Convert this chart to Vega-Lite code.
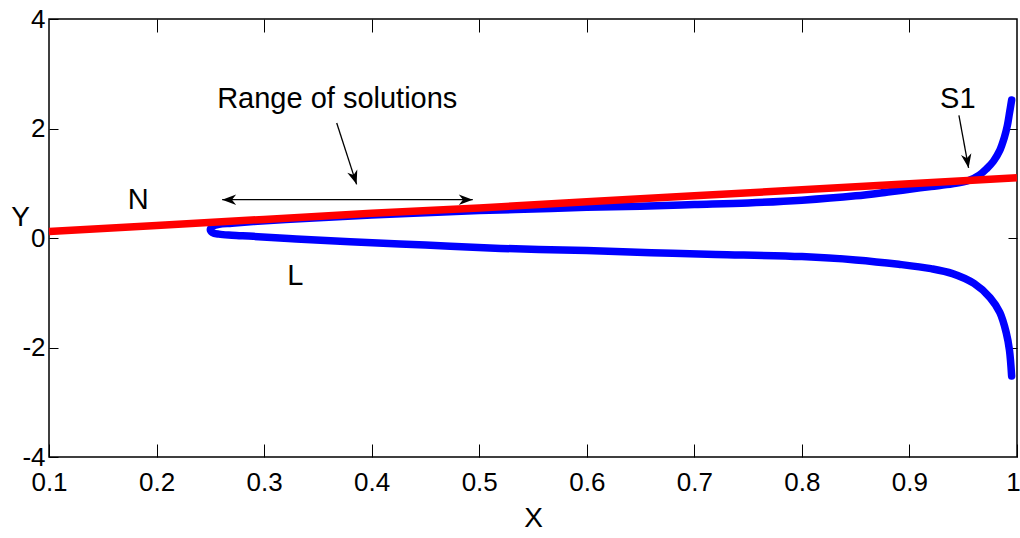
{
  "$schema": "https://vega.github.io/schema/vega-lite/v6.json",
  "width": 968,
  "height": 438,
  "autosize": {"type": "none"},
  "padding": {"left": 49, "top": 19, "right": 3, "bottom": 81},
  "background": "white",
  "config": {
    "view": {"stroke": "black", "strokeWidth": 1.5},
    "font": "Liberation Sans",
    "axis": {"grid": false, "domain": false, "tickColor": "black", "tickWidth": 1, "labelColor": "black", "titleColor": "black", "labelFont": "Liberation Sans", "titleFont": "Liberation Sans", "labelFontSize": 26, "titleFontSize": 28, "titleFontWeight": "normal", "labelFlush": false, "labelOverlap": false}
  },
  "datasets": {
    "curves": [
      {"series": "L", "order": 1, "x": 0.995, "y": 2.52},
      {"series": "L", "order": 2, "x": 0.993, "y": 2.28},
      {"series": "L", "order": 3, "x": 0.991, "y": 2.05},
      {"series": "L", "order": 4, "x": 0.988, "y": 1.82},
      {"series": "L", "order": 5, "x": 0.984, "y": 1.6},
      {"series": "L", "order": 6, "x": 0.978, "y": 1.4},
      {"series": "L", "order": 7, "x": 0.972, "y": 1.27},
      {"series": "L", "order": 8, "x": 0.965, "y": 1.15},
      {"series": "L", "order": 9, "x": 0.955, "y": 1.05},
      {"series": "L", "order": 10, "x": 0.94, "y": 0.99},
      {"series": "L", "order": 11, "x": 0.92, "y": 0.94},
      {"series": "L", "order": 12, "x": 0.9, "y": 0.89},
      {"series": "L", "order": 13, "x": 0.88, "y": 0.84},
      {"series": "L", "order": 14, "x": 0.85, "y": 0.77},
      {"series": "L", "order": 15, "x": 0.8, "y": 0.69},
      {"series": "L", "order": 16, "x": 0.75, "y": 0.64},
      {"series": "L", "order": 17, "x": 0.7, "y": 0.61},
      {"series": "L", "order": 18, "x": 0.65, "y": 0.58},
      {"series": "L", "order": 19, "x": 0.6, "y": 0.56},
      {"series": "L", "order": 20, "x": 0.55, "y": 0.53},
      {"series": "L", "order": 21, "x": 0.5, "y": 0.5},
      {"series": "L", "order": 22, "x": 0.45, "y": 0.46},
      {"series": "L", "order": 23, "x": 0.4, "y": 0.42},
      {"series": "L", "order": 24, "x": 0.36, "y": 0.38},
      {"series": "L", "order": 25, "x": 0.32, "y": 0.34},
      {"series": "L", "order": 26, "x": 0.29, "y": 0.3},
      {"series": "L", "order": 27, "x": 0.27, "y": 0.27},
      {"series": "L", "order": 28, "x": 0.258, "y": 0.25},
      {"series": "L", "order": 29, "x": 0.252, "y": 0.21},
      {"series": "L", "order": 30, "x": 0.25, "y": 0.15},
      {"series": "L", "order": 31, "x": 0.252, "y": 0.1},
      {"series": "L", "order": 32, "x": 0.258, "y": 0.07},
      {"series": "L", "order": 33, "x": 0.27, "y": 0.05},
      {"series": "L", "order": 34, "x": 0.29, "y": 0.03},
      {"series": "L", "order": 35, "x": 0.33, "y": -0.02},
      {"series": "L", "order": 36, "x": 0.38, "y": -0.07},
      {"series": "L", "order": 37, "x": 0.45, "y": -0.13},
      {"series": "L", "order": 38, "x": 0.52, "y": -0.19},
      {"series": "L", "order": 39, "x": 0.6, "y": -0.23},
      {"series": "L", "order": 40, "x": 0.66, "y": -0.27},
      {"series": "L", "order": 41, "x": 0.72, "y": -0.3},
      {"series": "L", "order": 42, "x": 0.8, "y": -0.34},
      {"series": "L", "order": 43, "x": 0.85, "y": -0.4},
      {"series": "L", "order": 44, "x": 0.89, "y": -0.48},
      {"series": "L", "order": 45, "x": 0.92, "y": -0.56},
      {"series": "L", "order": 46, "x": 0.94, "y": -0.65},
      {"series": "L", "order": 47, "x": 0.96, "y": -0.83},
      {"series": "L", "order": 48, "x": 0.975, "y": -1.09},
      {"series": "L", "order": 49, "x": 0.984, "y": -1.36},
      {"series": "L", "order": 50, "x": 0.99, "y": -1.73},
      {"series": "L", "order": 51, "x": 0.993, "y": -2.05},
      {"series": "L", "order": 52, "x": 0.995, "y": -2.52},
      {"series": "N", "order": 1, "x": 0.1, "y": 0.12},
      {"series": "N", "order": 2, "x": 0.2, "y": 0.23},
      {"series": "N", "order": 3, "x": 0.3, "y": 0.34},
      {"series": "N", "order": 4, "x": 0.4, "y": 0.45},
      {"series": "N", "order": 5, "x": 0.5, "y": 0.55},
      {"series": "N", "order": 6, "x": 0.6, "y": 0.66},
      {"series": "N", "order": 7, "x": 0.7, "y": 0.77},
      {"series": "N", "order": 8, "x": 0.8, "y": 0.88},
      {"series": "N", "order": 9, "x": 0.9, "y": 0.99},
      {"series": "N", "order": 10, "x": 1.0, "y": 1.1}
    ],
    "arrows": [
      {"name": "range", "x": 0.261, "y": 0.7, "x2": 0.494, "y2": 0.7},
      {"name": "range_pointer", "x": 0.3675, "y": 2.1, "x2": 0.386, "y2": 0.98},
      {"name": "s1_pointer", "x": 0.946, "y": 2.24, "x2": 0.955, "y2": 1.28}
    ],
    "heads": [
      {"kind": "left", "x": 0.261, "y": 0.7},
      {"kind": "right", "x": 0.494, "y": 0.7},
      {"kind": "down1", "x": 0.386, "y": 0.98},
      {"kind": "down2", "x": 0.955, "y": 1.28}
    ],
    "labels": [
      {"text": "Range of solutions", "x": 0.368, "y": 2.53},
      {"text": "S1", "x": 0.945, "y": 2.53},
      {"text": "N", "x": 0.183, "y": 0.685},
      {"text": "L", "x": 0.329, "y": -0.685}
    ]
  },
  "resolve": {"axis": {"x": "independent", "y": "independent"}},
  "layer": [
    {
      "data": {"name": "curves"},
      "transform": [{"filter": "datum.series === 'L'"}],
      "mark": {"type": "line", "color": "#0000ff", "strokeWidth": 7.5, "strokeCap": "round", "strokeJoin": "round", "interpolate": "catmull-rom"},
      "encoding": {
        "x": {"field": "x", "type": "quantitative", "scale": {"domain": [0.1, 1], "nice": false, "zero": false},
          "axis": {"orient": "bottom", "values": [0.1, 0.2, 0.3, 0.4, 0.5, 0.6, 0.7, 0.8, 0.9, 1], "format": ".1~f", "tickSize": -13, "labelPadding": 25, "labelOffset": {"condition": {"test": "datum.value === 1", "value": -4}, "value": 0}, "title": "X", "titlePadding": 9}},
        "y": {"field": "y", "type": "quantitative", "scale": {"domain": [-4, 4], "nice": false, "zero": false},
          "axis": {"orient": "left", "values": [-4, -2, 0, 2, 4], "labelExpr": "datum.value < 0 ? '-' + abs(datum.value) : '' + datum.value", "tickSize": -9, "labelPadding": 13, "title": "Y", "titleAngle": 0, "titleX": -29, "titleY": 198, "titleAlign": "center", "titleBaseline": "middle"}},
        "order": {"field": "order", "type": "quantitative"}
      }
    },
    {
      "data": {"name": "curves"},
      "transform": [{"filter": "datum.series === 'N'"}],
      "mark": {"type": "line", "color": "#ff0000", "strokeWidth": 7.5, "strokeCap": "butt"},
      "encoding": {
        "x": {"field": "x", "type": "quantitative", "scale": {"domain": [0.1, 1], "nice": false, "zero": false},
          "axis": {"orient": "top", "values": [0.2, 0.3, 0.4, 0.5, 0.6, 0.7, 0.8, 0.9], "labels": false, "tickSize": -13, "title": null}},
        "y": {"field": "y", "type": "quantitative", "scale": {"domain": [-4, 4], "nice": false, "zero": false},
          "axis": {"orient": "right", "values": [-2, 0, 2], "labels": false, "tickSize": -9, "title": null}},
        "order": {"field": "order", "type": "quantitative"}
      }
    },
    {
      "data": {"name": "arrows"},
      "mark": {"type": "rule", "color": "black", "strokeWidth": 1.3},
      "encoding": {
        "x": {"field": "x", "type": "quantitative", "axis": null},
        "y": {"field": "y", "type": "quantitative", "axis": null},
        "x2": {"field": "x2"},
        "y2": {"field": "y2"}
      }
    },
    {
      "data": {"name": "heads"},
      "transform": [{"filter": "datum.kind === 'left'"}],
      "mark": {"type": "point", "shape": "M0,0 L2,-0.75 L1.4,0 L2,0.75 Z", "size": 196, "filled": true, "color": "black", "opacity": 1},
      "encoding": {
        "x": {"field": "x", "type": "quantitative", "axis": null},
        "y": {"field": "y", "type": "quantitative", "axis": null}
      }
    },
    {
      "data": {"name": "heads"},
      "transform": [{"filter": "datum.kind === 'right'"}],
      "mark": {"type": "point", "shape": "M0,0 L-2,-0.75 L-1.4,0 L-2,0.75 Z", "size": 196, "filled": true, "color": "black", "opacity": 1},
      "encoding": {
        "x": {"field": "x", "type": "quantitative", "axis": null},
        "y": {"field": "y", "type": "quantitative", "axis": null}
      }
    },
    {
      "data": {"name": "heads"},
      "transform": [{"filter": "datum.kind === 'down1'"}],
      "mark": {"type": "point", "shape": "M0,0 L-0.75,-2 L0,-1.4 L0.75,-2 Z", "size": 196, "filled": true, "color": "black", "opacity": 1, "angle": -18},
      "encoding": {
        "x": {"field": "x", "type": "quantitative", "axis": null},
        "y": {"field": "y", "type": "quantitative", "axis": null}
      }
    },
    {
      "data": {"name": "heads"},
      "transform": [{"filter": "datum.kind === 'down2'"}],
      "mark": {"type": "point", "shape": "M0,0 L-0.75,-2 L0,-1.4 L0.75,-2 Z", "size": 196, "filled": true, "color": "black", "opacity": 1, "angle": -10},
      "encoding": {
        "x": {"field": "x", "type": "quantitative", "axis": null},
        "y": {"field": "y", "type": "quantitative", "axis": null}
      }
    },
    {
      "data": {"name": "labels"},
      "mark": {"type": "text", "font": "Liberation Sans", "fontSize": 29, "color": "black", "align": "center", "baseline": "middle"},
      "encoding": {
        "x": {"field": "x", "type": "quantitative", "axis": null},
        "y": {"field": "y", "type": "quantitative", "axis": null},
        "text": {"field": "text"}
      }
    }
  ]
}
